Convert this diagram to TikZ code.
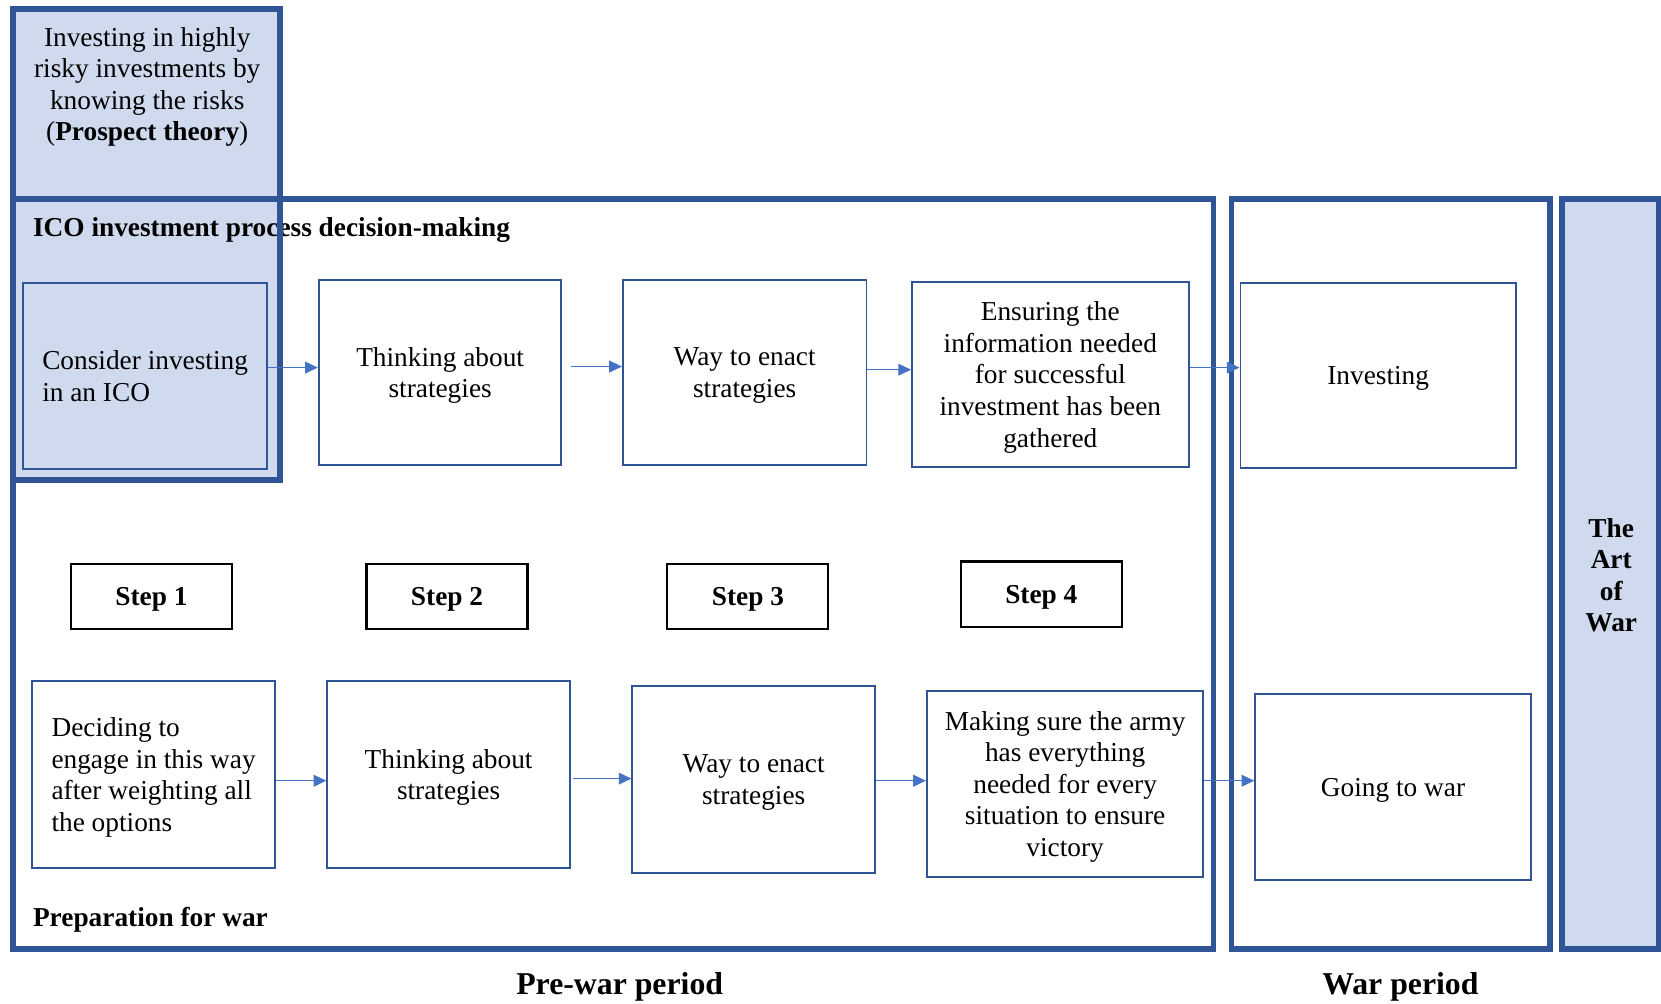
\documentclass[tikz,border=0pt]{standalone}
\usepackage{fontspec}
\setmainfont{Liberation Serif}
\usetikzlibrary{arrows.meta}
\definecolor{frameblue}{HTML}{2F5597}
\definecolor{fillblue}{HTML}{CFDAEE}
\definecolor{arrowblue}{HTML}{4472C4}
\tikzset{
  thinbox/.style={draw=frameblue, line width=1.8pt, fill=white, minimum height=176pt, inner sep=0pt, align=center, text depth=-2.5pt, font=\fontsize{25.8}{29.8}\selectfont},
  stepbox/.style={draw=black, line width=2pt, minimum width=152pt, minimum height=62pt, inner sep=0pt, text depth=-1pt, font=\bfseries\fontsize{25.8}{29.8}\selectfont},
  framebox/.style={draw=frameblue, line width=5.5pt},
  arr/.style={draw=arrowblue, line width=1.4pt, -{Triangle[length=12pt,width=11pt]}},
  lbl/.style={font=\bfseries\fontsize{25.8}{29.8}\selectfont, inner sep=0pt},
  txt/.style={font=\fontsize{25.8}{29.8}\selectfont, inner sep=0pt, align=center},
  period/.style={font=\bfseries\fontsize{30}{34}\selectfont, inner sep=0pt}
}
\begin{document}
\begin{tikzpicture}[x=1pt,y=-1pt]
\useasboundingbox (0,0) rectangle (1568,947);
% fills
\fill[fillblue] (12.5,8.5) rectangle (264.5,453.5);
\fill[fillblue] (1474.5,187.5) rectangle (1570,895.5);
% frames
\draw[framebox] (12.5,187.5) rectangle (1145.5,895.5);
\draw[framebox] (1162.5,187.5) rectangle (1463.5,895.5);
\draw[framebox] (1474.5,187.5) rectangle (1566,895.5);
% prospect text
\node[txt] (prospect) at (139,82) {Investing in highly\\risky investments by\\knowing the risks\\(\textbf{Prospect theory})};
\node[lbl, anchor=west] (ico) at (31,217) {ICO investment process decision-making};
\draw[framebox] (12.5,8.5) rectangle (264.5,453.5);
% top row
\node[thinbox, fill=fillblue, minimum width=230pt, align=left] (cons) at (137,355) {Consider investing\\in an ICO};
\node[thinbox, minimum width=229pt, minimum height=175pt] (think1) at (415.5,351.5) {Thinking about\\strategies};
\node[thinbox, minimum width=230pt, minimum height=175pt] (way1) at (703,351.5) {Way to enact\\strategies};
\node[thinbox, minimum width=261pt, minimum height=175pt] (ens1) at (991.5,353.5) {Ensuring the\\information needed\\for successful\\investment has been\\gathered};
\node[thinbox, minimum width=260pt, minimum height=175pt] (inv) at (1301,354.5) {Investing};
% steps
\node[stepbox] (s1) at (143,563) {Step 1};
\node[stepbox] (s2) at (422,563) {Step 2};
\node[stepbox] (s3) at (706,563) {Step 3};
\node[stepbox] (s4) at (983,561) {Step 4};
% bottom row
\node[thinbox, minimum width=230pt, align=left] (dec) at (145,731) {Deciding to\\engage in this way\\after weighting all\\the options};
\node[thinbox, minimum width=229pt] (think2) at (423.5,731) {Thinking about\\strategies};
\node[thinbox, minimum width=229pt] (way2) at (711.5,736) {Way to enact\\strategies};
\node[thinbox, minimum width=261pt] (make) at (1005.5,740) {Making sure the army\\has everything\\needed for every\\situation to ensure\\victory};
\node[thinbox, minimum width=260pt] (go) at (1315,743) {Going to war};
% arrows top
\draw[arr] ([yshift=8pt]cons.east) -- ([yshift=8pt]cons.east -| think1.west);
\draw[arr] ([xshift=8pt,yshift=5.5pt]think1.east) -- ([yshift=5.5pt]think1.east -| way1.west);
\draw[arr] ([yshift=2.5pt]way1.east) -- ([yshift=2.5pt]way1.east -| ens1.west);
\draw[arr] ([yshift=6.5pt]ens1.east) -- ([yshift=6.5pt]ens1.east -| inv.west);
% arrows bottom
\draw[arr] ([yshift=-6pt]dec.east) -- ([yshift=-6pt]dec.east -| think2.west);
\draw[arr] ([xshift=2pt,yshift=-4pt]think2.east) -- ([yshift=-4pt]think2.east -| way2.west);
\draw[arr] ([yshift=-1pt]way2.east) -- ([yshift=-1pt]way2.east -| make.west);
\draw[arr] ([yshift=3pt]make.east) -- ([yshift=3pt]make.east -| go.west);
% labels
\node[lbl, anchor=west] (prep) at (31,868) {Preparation for war};
\node[lbl, align=center] (art) at (1521,543) {The\\Art\\of\\War};
\node[period] (pre) at (585,932) {Pre-war period};
\node[period] (war) at (1322,932) {War period};
\end{tikzpicture}
\end{document}
